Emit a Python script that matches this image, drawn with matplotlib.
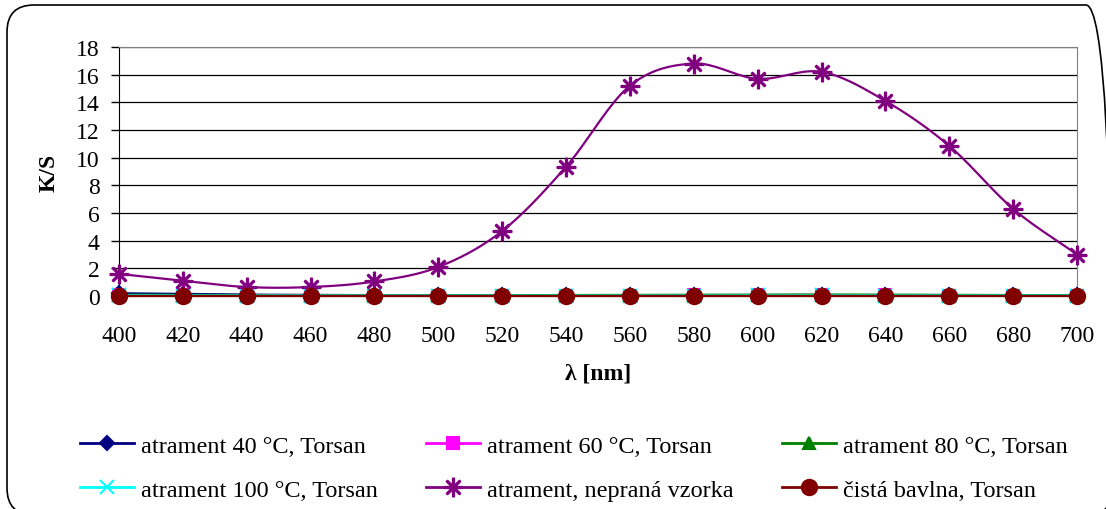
import numpy as np
import matplotlib
matplotlib.use("Agg")
import matplotlib.pyplot as plt
from matplotlib.patches import FancyBboxPatch

plt.rcParams['font.family'] = ['Liberation Serif', 'DejaVu Serif']

wavelength = [400, 420, 440, 460, 480, 500, 520, 540, 560, 580, 600, 620, 640, 660, 680, 700]

ks_40 = [0.2, 0.15, 0.1, 0.08, 0.06, 0.05, 0.05, 0.05, 0.05, 0.06, 0.07, 0.07, 0.06, 0.05, 0.05, 0.05]
ks_60 = [0.05, 0.04, 0.03, 0.03, 0.03, 0.03, 0.03, 0.03, 0.03, 0.04, 0.04, 0.04, 0.04, 0.03, 0.03, 0.03]
ks_80 = [0.1, 0.08, 0.06, 0.05, 0.05, 0.05, 0.06, 0.07, 0.08, 0.1, 0.11, 0.11, 0.1, 0.08, 0.07, 0.06]
ks_100 = [0.04, 0.03, 0.03, 0.03, 0.03, 0.03, 0.03, 0.03, 0.03, 0.03, 0.04, 0.04, 0.03, 0.03, 0.03, 0.03]
ks_neprana = [1.6, 1.1, 0.65, 0.65, 1.05, 2.1, 4.7, 9.35, 15.2, 16.8, 15.7, 16.2, 14.1, 10.85, 6.3, 3.0]
ks_bavlna = [0.02, 0.02, 0.02, 0.02, 0.02, 0.02, 0.02, 0.02, 0.02, 0.02, 0.02, 0.02, 0.02, 0.02, 0.02, 0.02]

labels = ['atrament 40 °C, Torsan', 'atrament 60 °C, Torsan', 'atrament 80 °C, Torsan',
          'atrament 100 °C, Torsan', 'atrament, nepraná vzorka', 'čistá bavlna, Torsan']
colors = ['#000080', '#FF00FF', '#008000', '#00FFFF', '#800080', '#800000']
markers = ['D', 's', '^', 'x', '$\u2733$', 'o']
msizes = [7, 9, 9, 10, 13, 11]


def smooth(x, y, n=20):
    # Excel-like smoothed line (Catmull-Rom)
    x = np.asarray(x, float)
    y = np.asarray(y, float)
    px = np.concatenate([[2 * x[0] - x[1]], x, [2 * x[-1] - x[-2]]])
    py = np.concatenate([[2 * y[0] - y[1]], y, [2 * y[-1] - y[-2]]])
    xs, ys = [], []
    t = np.linspace(0, 1, n, endpoint=False)
    for i in range(1, len(px) - 2):
        for arr, a in ((ys, py), (xs, px)):
            a0, a1, a2, a3 = a[i - 1], a[i], a[i + 1], a[i + 2]
            arr.extend(0.5 * (2 * a1 + (-a0 + a2) * t + (2 * a0 - 5 * a1 + 4 * a2 - a3) * t ** 2
                              + (-a0 + 3 * a1 - 3 * a2 + a3) * t ** 3))
    xs.append(x[-1])
    ys.append(y[-1])
    return np.array(xs), np.array(ys)


fig = plt.figure(figsize=(11.06, 5.1), dpi=100)
ax = fig.add_axes([0.1076, 0.4176, 0.8662, 0.4883])

# rounded chart border (pixel coordinates), runs off the right and bottom edge
border = FancyBboxPatch((7, -6), 1106, 510, boxstyle="round,pad=0,rounding_size=27",
                        transform=None, fill=False, edgecolor='black', linewidth=1.2)
fig.patches.append(border)

series = [ks_40, ks_60, ks_80, ks_100, ks_neprana, ks_bavlna]
handles = []
for vals, lab, c, m, ms in zip(series, labels, colors, markers, msizes):
    sx, sy = smooth(wavelength, vals)
    ax.plot(sx, sy, color=c, linewidth=1.6, clip_on=False, zorder=3)
    ax.plot(wavelength, vals, linestyle='none', marker=m, color=c, markersize=ms,
            markeredgewidth=1.5, clip_on=False, zorder=4)
    h, = ax.plot([], [], color=c, linewidth=2, marker=m, markersize=ms, markeredgewidth=1.5)
    handles.append(h)

ax.set_xlim(400, 700)
ax.set_ylim(0, 18)
ax.set_xticks(wavelength)
ax.set_yticks(range(0, 19, 2))
ax.tick_params(labelsize=17, direction='out', length=6, width=1)
ax.tick_params(axis='y', pad=8)
ax.tick_params(axis='x', pad=15)
ax.grid(axis='y', color='black', linewidth=0.9)
ax.set_axisbelow(True)
for s in ['top', 'right']:
    ax.spines[s].set_color('#808080')
ax.spines['bottom'].set_color('black')

ax.set_ylabel('K/S', fontsize=17, fontweight='bold', labelpad=12)
ax.set_xlabel('λ [nm]', fontsize=17, fontweight='bold', labelpad=12)

order = [0, 3, 1, 4, 2, 5]
fig.legend([handles[i] for i in order], [labels[i] for i in order], loc='center',
           bbox_to_anchor=(0.519, 0.081), ncol=3, frameon=False, fontsize=17.5,
           handlelength=2.2, columnspacing=2.0, handletextpad=0.3, labelspacing=0.9)

fig.savefig('out.png', dpi=100)
